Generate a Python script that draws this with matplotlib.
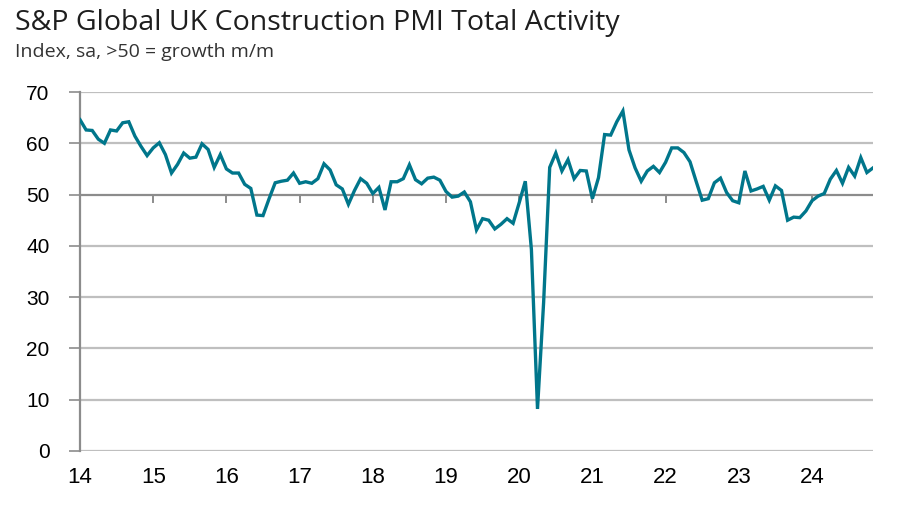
import matplotlib.pyplot as plt
import numpy as np

# monthly index, Jan 2014 .. Nov 2024
pmi_2014 = [64.6, 62.6, 62.5, 60.8, 60.0, 62.6, 62.4, 64.0, 64.2, 61.4, 59.4, 57.6]
pmi_2015 = [59.1, 60.1, 57.8, 54.2, 55.9, 58.1, 57.1, 57.3, 59.9, 58.8, 55.3, 57.8]
pmi_2016 = [55.0, 54.2, 54.2, 52.0, 51.2, 46.0, 45.9, 49.2, 52.3, 52.6, 52.8, 54.2]
pmi_2017 = [52.2, 52.5, 52.2, 53.1, 56.0, 54.8, 51.9, 51.1, 48.1, 50.8, 53.1, 52.2]
pmi_2018 = [50.2, 51.4, 47.0, 52.5, 52.5, 53.1, 55.8, 52.9, 52.1, 53.2, 53.4, 52.8]
pmi_2019 = [50.6, 49.5, 49.7, 50.5, 48.6, 43.1, 45.3, 45.0, 43.3, 44.2, 45.3, 44.4]
pmi_2020 = [48.4, 52.6, 39.3, 8.2, 28.9, 55.3, 58.1, 54.6, 56.8, 53.1, 54.7, 54.6]
pmi_2021 = [49.2, 53.3, 61.7, 61.6, 64.2, 66.3, 58.7, 55.2, 52.6, 54.6, 55.5, 54.3]
pmi_2022 = [56.3, 59.1, 59.1, 58.2, 56.4, 52.6, 48.9, 49.2, 52.3, 53.2, 50.4, 48.8]
pmi_2023 = [48.4, 54.6, 50.7, 51.1, 51.6, 48.9, 51.7, 50.8, 45.0, 45.6, 45.5, 46.8]
pmi_2024 = [48.8, 49.7, 50.2, 53.0, 54.7, 52.2, 55.3, 53.6, 57.2, 54.3, 55.2]

years = ['14', '15', '16', '17', '18', '19', '20', '21', '22', '23', '24']

pmi = (pmi_2014 + pmi_2015 + pmi_2016 + pmi_2017 + pmi_2018 + pmi_2019
       + pmi_2020 + pmi_2021 + pmi_2022 + pmi_2023 + pmi_2024)
months = np.arange(len(pmi))

plt.rcParams['font.family'] = ['Liberation Sans', 'DejaVu Sans']

fig = plt.figure(figsize=(9.14, 5.19), dpi=100)
ax = fig.add_axes([80 / 914, 1 - 451 / 519, 793 / 914, 359 / 519])

for v in range(0, 80, 10):
    if v == 50:
        continue
    ax.axhline(v, color='#bfbfbf', lw=1.6, zorder=1)
ax.axhline(50, color='#8c8c8c', lw=1.6, zorder=1)

ax.plot(months, pmi, color='#00768b', lw=2.4, solid_joinstyle='miter', zorder=3)

ax.set_xlim(0, len(pmi) - 1)
ax.set_ylim(0, 70)
ax.set_yticks(range(0, 80, 10))
ax.tick_params(axis='y', length=8, width=1.2, color='#8c8c8c', labelsize=15, pad=14)

for s in ['top', 'right', 'bottom']:
    ax.spines[s].set_visible(False)
ax.spines['left'].set_color('#8c8c8c')
ax.spines['left'].set_linewidth(1.6)

# year ticks hang from the 50 line, labels sit under the plot
ax.set_xticks([])
for i in range(1, len(years)):
    ax.plot([i * 12, i * 12], [50, 48.6], color='#8c8c8c', lw=1.4, zorder=1, clip_on=False)
for i, y in enumerate(years):
    ax.text(i * 12, -3.2, y, ha='center', va='top', fontsize=16)

fig.text(15 / 914, 1 - 30 / 519, 'S&P Global UK Construction PMI Total Activity',
         fontsize=20.5, family='Open Sans', color='#1e1e1e', va='baseline')
fig.text(15 / 914, 1 - 57 / 519, 'Index, sa, >50 = growth m/m',
         fontsize=14, family='Open Sans', color='#333333', va='baseline')

fig.savefig('out.png', dpi=100)
